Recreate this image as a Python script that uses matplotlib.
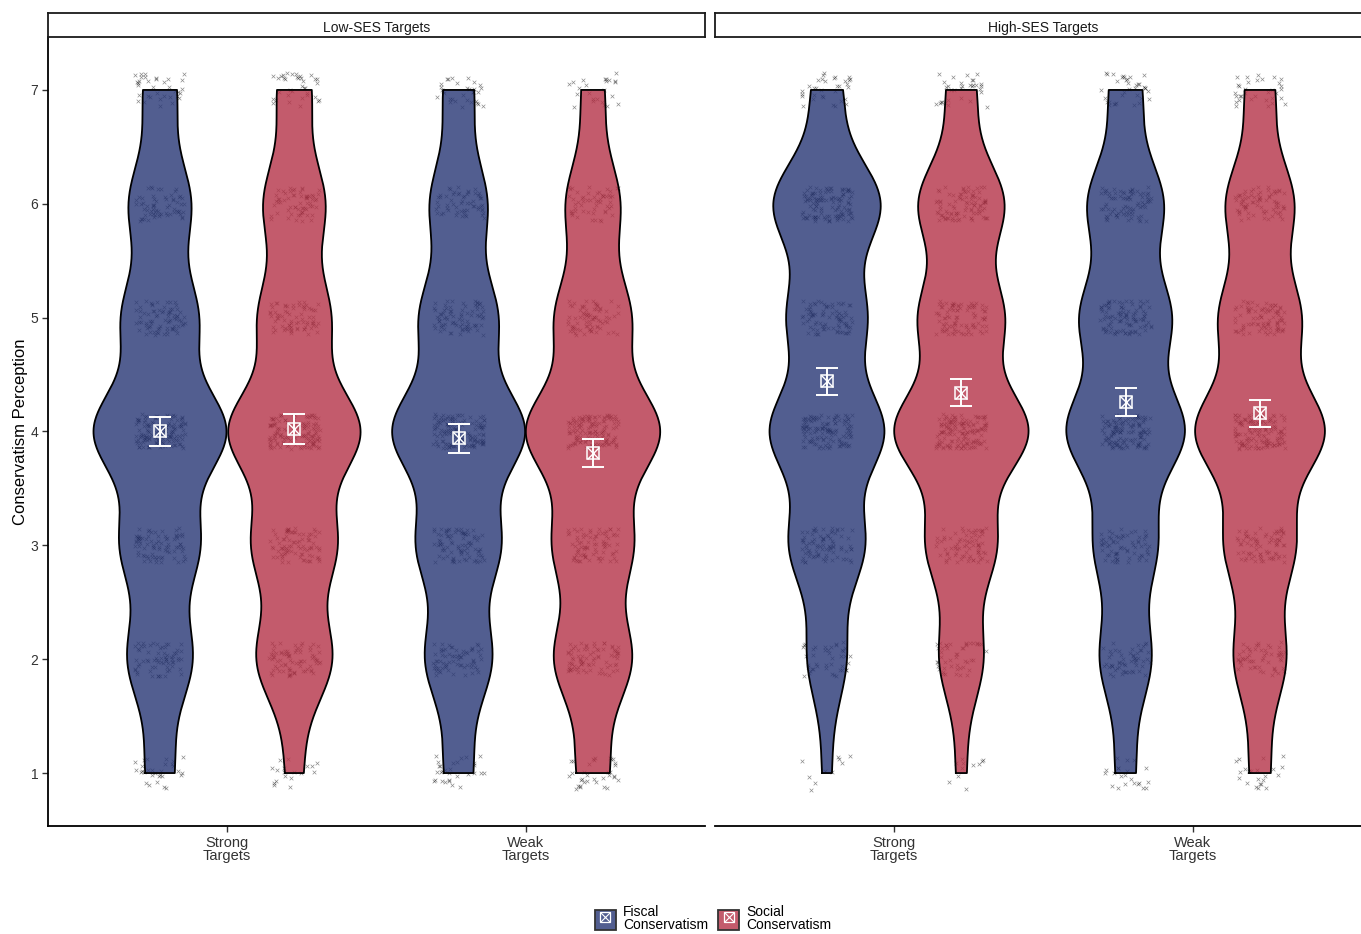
import numpy as np
import matplotlib
matplotlib.use("Agg")
import matplotlib.pyplot as plt
from matplotlib.patches import Patch
from matplotlib.lines import Line2D
from matplotlib.legend_handler import HandlerTuple

plt.rcParams['font.family'] = ['Liberation Sans', 'DejaVu Sans']

# ---------------- data ----------------
panels = ["Low-SES Targets", "High-SES Targets"]
target_labels = ["Strong\nTargets", "Weak\nTargets"]
measure_labels = ["Fiscal\nConservatism", "Social\nConservatism"]
levels = [1, 2, 3, 4, 5, 6, 7]

# response counts per level (1..7)
low_strong_fiscal = [30, 68, 82, 140, 79, 65, 35]
low_strong_social = [18, 80, 88, 140, 75, 65, 36]
low_weak_fiscal = [30, 70, 87, 140, 81, 60, 32]
low_weak_social = [34, 82, 83, 142, 79, 57, 24]
high_strong_fiscal = [10, 43, 83, 127, 86, 120, 33]
high_strong_social = [11, 48, 76, 147, 92, 94, 32]
high_weak_fiscal = [22, 57, 69, 131, 100, 84, 36]
high_weak_social = [23, 58, 78, 145, 90, 76, 33]

# means and CI half-widths  [panel][target][measure]
means = [[[4.00, 4.02], [3.94, 3.81]],
         [[4.44, 4.34], [4.26, 4.16]]]
ci_half = [[[0.13, 0.13], [0.13, 0.12]],
           [[0.12, 0.12], [0.12, 0.12]]]

counts = [[[low_strong_fiscal, low_strong_social], [low_weak_fiscal, low_weak_social]],
          [[high_strong_fiscal, high_strong_social], [high_weak_fiscal, high_weak_social]]]

fill_colors = ["#273675", "#B53247"]
violin_alpha = 0.8

# ---------------- helpers ----------------
def nrd0(x):
    sd = np.std(x, ddof=1)
    q75, q25 = np.percentile(x, [75, 25])
    lo = min(sd, (q75 - q25) / 1.34)
    return 0.9 * lo * len(x) ** (-0.2)

def kde(x, grid):
    h = nrd0(x)
    d = np.exp(-0.5 * ((grid[:, None] - x[None, :]) / h) ** 2).sum(axis=1)
    return d / (len(x) * h * np.sqrt(2 * np.pi))

def hash01(n, s):
    i = np.arange(n) + 1.0
    return np.modf(np.abs(np.sin(i * 12.9898 + s * 78.233) * 43758.5453))[0]

# ---------------- figure ----------------
W, H = 1361, 934
fig = plt.figure(figsize=(W / 100, H / 100), dpi=100)

ax_left_px, ax_w_px = 48, 657
ax_bot_px, ax_top_px = 826, 37
gap_px = 10
strip_h_px = 24

dodge = 0.225
vwidth = 0.45
jit_w, jit_h = 0.085, 0.15

for p in range(2):
    # densities (area scaling within panel)
    grids, dens = {}, {}
    pmax = 0
    for t in range(2):
        for m in range(2):
            vals = np.repeat(levels, counts[p][t][m]).astype(float)
            grid = np.linspace(vals.min(), vals.max(), 512)
            d = kde(vals, grid)
            grids[(t, m)] = grid
            dens[(t, m)] = d
            pmax = max(pmax, d.max())

    x0 = ax_left_px + p * (ax_w_px + gap_px)
    ax = fig.add_axes([x0 / W, 1 - ax_bot_px / H, ax_w_px / W, (ax_bot_px - ax_top_px) / H])
    sax = fig.add_axes([x0 / W, 1 - ax_top_px / H, ax_w_px / W, strip_h_px / H])
    sax.set_xticks([]); sax.set_yticks([])
    for s in sax.spines.values():
        s.set_linewidth(1.3); s.set_color("#1a1a1a")
    sax.text(0.5, 0.45, panels[p], ha='center', va='center_baseline', fontsize=10,
             color="#1a1a1a", transform=sax.transAxes)

    k = 0
    for t in range(2):
        for m in range(2):
            pos = t + 1 + (-dodge if m == 0 else dodge)
            vals = np.repeat(levels, counts[p][t][m]).astype(float)
            u = hash01(len(vals), 2 * k + 11 * p + 1)
            v = hash01(len(vals), 2 * k + 11 * p + 2.5)
            k += 1
            jx = (u * 2 - 1) * jit_w
            jy = (v * 2 - 1) * jit_h
            ax.scatter(pos + jx, vals + jy, marker='x', s=7, linewidths=0.5,
                       color='black', alpha=0.45, zorder=1)
            grid = grids[(t, m)]
            hw = dens[(t, m)] / pmax * vwidth / 2
            ax.fill_betweenx(grid, pos - hw, pos + hw, facecolor=fill_colors[m],
                             alpha=violin_alpha, edgecolor='none', zorder=2)
            xs = np.concatenate([pos - hw, (pos + hw)[::-1], [pos - hw[0]]])
            ys = np.concatenate([grid, grid[::-1], [grid[0]]])
            ax.plot(xs, ys, color='black', lw=1.3, zorder=3)
            mu = means[p][t][m]
            ci = ci_half[p][t][m]
            ax.errorbar([pos], [mu], yerr=[ci], fmt='none', ecolor='white',
                        elinewidth=1.4, capsize=8, capthick=1.4, zorder=4)
            ax.plot([pos], [mu], marker='s', ms=8.5, mfc='none', mec='white',
                    mew=1.1, ls='', zorder=5)
            ax.plot([pos], [mu], marker='x', ms=8.5, mec='white', mew=1.0,
                    ls='', zorder=5)

    ax.set_xlim(0.4, 2.6)
    ax.set_ylim(0.535, 7.465)
    ax.set_xticks([1, 2])
    ax.set_xticklabels(target_labels, fontsize=10.5, color="#333333", linespacing=0.95)
    ax.spines['top'].set_visible(False)
    ax.spines['right'].set_visible(False)
    ax.spines['bottom'].set_linewidth(1.3)
    ax.spines['left'].set_linewidth(1.3)
    ax.tick_params(axis='x', length=4, width=1, color="#333333", pad=3)
    if p == 0:
        ax.set_yticks(levels)
        ax.set_yticklabels([str(l) for l in levels], fontsize=10, color="#333333")
        ax.tick_params(axis='y', length=4, width=1, color="#333333", pad=3)
        ax.set_ylabel("Conservatism Perception", fontsize=12, labelpad=2)
    else:
        ax.spines['left'].set_visible(False)
        ax.set_yticks([])

# legend
handles = []
for m in range(2):
    patch = Patch(facecolor=fill_colors[m], alpha=violin_alpha, edgecolor='none')
    border = Patch(facecolor='none', edgecolor='#333333', linewidth=1.3)
    sq = Line2D([], [], marker='s', ms=7, mfc='none', mec='white', mew=0.9, ls='')
    xm = Line2D([], [], marker='x', ms=7, mec='white', mew=0.8, ls='')
    handles.append((patch, border, sq, xm))
leg = fig.legend(handles, measure_labels, loc='upper left',
                 bbox_to_anchor=(582 / W, 1 - 893 / H), ncol=2, frameon=False,
                 fontsize=10, handlelength=1.55, handleheight=1.75,
                 columnspacing=0.7, handletextpad=0.5,
                 handler_map={tuple: HandlerTuple(ndivide=1, pad=0)})
for txt in leg.get_texts():
    txt.set_linespacing(0.9)

fig.savefig("out.png", dpi=100)
